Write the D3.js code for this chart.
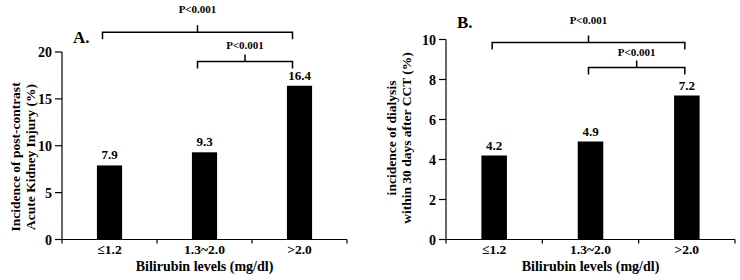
<!DOCTYPE html>
<html>
<head>
<meta charset="utf-8">
<script src="https://d3js.org/d3.v7.min.js"></script>
<style>
  body { margin: 0; background: #fff; }
  svg text { font-family: "Liberation Serif", "Times New Roman", serif; font-weight: bold; fill: #000; }
</style>
</head>
<body>
<script>
// ---- data ----
const categories = ["\u22641.2", "1.3~2.0", ">2.0"];
const akiValues = [7.9, 9.3, 16.4];
const dialysisValues = [4.2, 4.9, 7.2];
const akiTicks = [0, 5, 10, 15, 20];
const dialysisTicks = [0, 2, 4, 6, 8, 10];
// brackets: [from category, to category, level in data units, label]
const akiBrackets = [[0, 2, 22.1, "P<0.001"], [1, 2, 19.0, "P<0.001"]];
const dialysisBrackets = [[0, 2, 9.85, "P<0.001"], [1, 2, 8.6, "P<0.001"]];

const width = 740, height = 280;
const svg = d3.select("body").append("svg")
    .attr("width", width)
    .attr("height", height);

function drawPanel(p) {
    let g = svg.append("g");

    let x = d3.scaleBand()
        .domain(categories)
        .range([p.x0, p.x1])
        .paddingInner(0.735)
        .paddingOuter(0.3675);
    // boundaries between categories
    let xb = d3.scaleBand().domain(categories).range([p.x0, p.x1]).padding(0);
    let y = d3.scaleLinear().domain(p.domain).range([239.5, p.yTop]);

    // y axis
    g.append("line")
        .attr("x1", p.x0).attr("x2", p.x0)
        .attr("y1", y(p.domain[0])).attr("y2", y(p.domain[1]))
        .attr("stroke", "#000").attr("stroke-width", 1.2);
    g.selectAll(".ytick")
        .data(p.ticks)
        .join("line")
            .attr("x1", p.x0 - 7).attr("x2", p.x0)
            .attr("y1", d => y(d)).attr("y2", d => y(d))
            .attr("stroke", "#000").attr("stroke-width", 1.2);
    g.selectAll(".ylab")
        .data(p.ticks)
        .join("text")
            .attr("x", p.x0 - 10)
            .attr("y", d => y(d) + 5)
            .attr("text-anchor", "end")
            .style("font-size", "14px")
            .text(d => d);

    // x axis
    g.append("line")
        .attr("x1", p.x0).attr("x2", p.x1)
        .attr("y1", y(0)).attr("y2", y(0))
        .attr("stroke", "#000").attr("stroke-width", 1.2);
    let bounds = categories.map(c => xb(c)).concat([p.x1]);
    g.selectAll(".xtick")
        .data(bounds)
        .join("line")
            .attr("x1", d => d).attr("x2", d => d)
            .attr("y1", y(0)).attr("y2", y(0) + 4)
            .attr("stroke", "#000").attr("stroke-width", 1.2);
    g.selectAll(".xlab")
        .data(categories)
        .join("text")
            .attr("x", d => x(d) + x.bandwidth() / 2)
            .attr("y", 254)
            .attr("text-anchor", "middle")
            .style("font-size", "13.5px")
            .text(d => d);
    g.append("text")
        .attr("x", (p.x0 + p.x1) / 2)
        .attr("y", 271)
        .attr("text-anchor", "middle")
        .style("font-size", "14px")
        .text("Bilirubin levels (mg/dl)");

    // bars
    g.selectAll(".bar")
        .data(p.values)
        .join("rect")
            .attr("x", (d, i) => x(categories[i]))
            .attr("y", d => y(d))
            .attr("width", x.bandwidth())
            .attr("height", d => y(0) - y(d))
            .attr("fill", "#000");
    g.selectAll(".val")
        .data(p.values)
        .join("text")
            .attr("x", (d, i) => x(categories[i]) + x.bandwidth() / 2)
            .attr("y", d => y(d) - 6)
            .attr("text-anchor", "middle")
            .style("font-size", "13px")
            .text(d => d.toFixed(1));

    // y title (two lines)
    let yt = g.append("text")
        .attr("transform", `translate(${p.titleX},${p.titleY}) rotate(-90)`)
        .attr("text-anchor", "middle")
        .style("font-size", "13.5px");
    p.title.forEach((t, i) => {
        yt.append("tspan")
            .attr("x", 0)
            .attr("dy", i === 0 ? 0 : 15)
            .text(t);
    });

    // panel letter
    g.append("text")
        .attr("x", p.letterX).attr("y", p.letterY)
        .style("font-size", "17px")
        .text(p.letter);

    // significance brackets
    p.brackets.forEach((b, k) => {
        let xa = x(categories[b[0]]) + x.bandwidth() / 2 - p.bOff;
        let xz = x(categories[b[1]]) + x.bandwidth() / 2 - p.bOff;
        let yl = y(b[2]);
        let xm = (xa + xz) / 2;
        g.append("path")
            .attr("d", `M${xa},${yl + 7}V${yl}H${xz}V${yl + 7}M${xm},${yl}V${yl - 7}`)
            .attr("fill", "none")
            .attr("stroke", "#000")
            .attr("stroke-width", 1.5);
        g.append("text")
            .attr("x", xm)
            .attr("y", yl - (k === 0 ? 19 : 12))
            .attr("text-anchor", "middle")
            .style("font-size", "11px")
            .text(b[3]);
    });
}

drawPanel({
    x0: 62, x1: 347, yTop: 52, domain: [0, 20], ticks: akiTicks,
    values: akiValues, brackets: akiBrackets, bOff: 7,
    title: ["Incidence of post-contrast", "Acute Kidney Injury  (%)"],
    titleX: 20, titleY: 157,
    letter: "A.", letterX: 73, letterY: 43
});
drawPanel({
    x0: 446, x1: 735, yTop: 39.5, domain: [0, 10], ticks: dialysisTicks,
    values: dialysisValues, brackets: dialysisBrackets, bOff: 2,
    title: ["incidence of dialysis", "within 30 days after CCT (%)"],
    titleX: 396, titleY: 138,
    letter: "B.", letterX: 457, letterY: 28
});
</script>
</body>
</html>
